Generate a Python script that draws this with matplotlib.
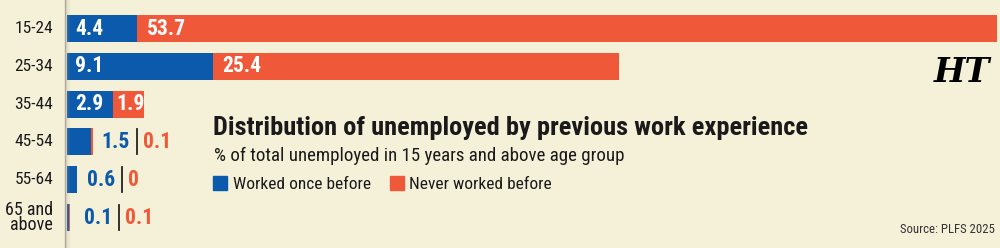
import matplotlib
matplotlib.use("Agg")
import matplotlib.pyplot as plt
from matplotlib import font_manager
from matplotlib.lines import Line2D
from matplotlib.patches import Rectangle

# ---------------- data ----------------
categories = ["15-24", "25-34", "35-44", "45-54", "55-64", "65 and\nabove"]
worked_before = [4.4, 9.1, 2.9, 1.5, 0.6, 0.1]
never_worked = [53.7, 25.4, 1.9, 0.1, 0.0, 0.1]
series_names = ["Worked once before", "Never worked before"]
title = "Distribution of unemployed by previous work experience"
subtitle = "% of total unemployed in 15 years and above age group"
source = "Source: PLFS 2025"

# ---------------- style ----------------
BG = "#f5f0d8"
BLUE = "#0b5aab"
ORANGE = "#f0583a"
DARK = "#1a1a1a"

avail = {f.name for f in font_manager.fontManager.ttflist}
fam = None
for cand in ["Liberation Sans Narrow", "Roboto Condensed", "Open Sans Condensed", "Roboto", "Liberation Sans"]:
    if cand in avail:
        fam = cand
        break
plt.rcParams["font.family"] = [fam, "DejaVu Sans"]

fig = plt.figure(figsize=(10, 2.48), dpi=100)
fig.patch.set_facecolor(BG)

PX = 16.0  # pixels per unit
ax_left = 67 / 1000
ax = fig.add_axes([ax_left, 0, 1 - ax_left, 1])
ax.set_facecolor(BG)
ax.set_xlim(0, (1000 - 67) / PX)
row = 37.8
top = 28.5
ax.set_ylim((248 - top) / row, -top / row)
for s in ax.spines.values():
    s.set_visible(False)
ax.set_xticks([])
ax.set_yticks([])

ypos = list(range(len(categories)))
h = 27 / row
ax.barh(ypos, worked_before, height=h, color=BLUE, edgecolor="none")
ax.barh(ypos, never_worked, left=worked_before, height=h, color=ORANGE, edgecolor="none")

# category labels
for i, c in enumerate(categories):
    fs = 13 if "\n" in c else 12.5
    ax.text(-14 / PX, i, c, ha="right", va="center", fontsize=fs, color=DARK,
            linespacing=0.85, clip_on=False)

# value labels
VFS = 15.5
sep_layout = {3: 137, 4: 122, 5: 119}  # separator pixel x for small rows
for i, (b, o) in enumerate(zip(worked_before, never_worked)):
    if i in sep_layout:
        sx = (sep_layout[i] - 67) / PX
        ax.text(sx - 7 / PX, i, f"{b:g}", ha="right", va="center", fontsize=VFS,
                fontweight="bold", color=BLUE)
        ax.text(sx + 6 / PX, i, f"{o:g}", ha="left", va="center", fontsize=VFS,
                fontweight="bold", color=ORANGE)
        ax.plot([sx, sx], [i - 12.5 / row, i + 12.5 / row], color="#222222", lw=1.3)
    else:
        ax.text(8 / PX, i, f"{b:g}", ha="left", va="center", fontsize=VFS,
                fontweight="bold", color="white")
        ax.text(b + 3 / PX if o < 3 else b + 10 / PX, i, f"{o:g}", ha="left",
                va="center", fontsize=VFS, fontweight="bold", color="white")

# left divider with soft shadow
fig.add_artist(Line2D([65 / 1000, 65 / 1000], [0, 1], color="#b0ab98", lw=1.0))
for k in range(1, 5):
    fig.add_artist(Line2D([(65 + k) / 1000, (65 + k) / 1000], [0, 1],
                          color="#b0ab98", lw=1.0, alpha=0.3 / k))

# title, subtitle, legend
fig.text(213 / 1000, 1 - 135 / 248, title, fontsize=19, fontweight="bold",
         color=DARK, va="baseline")
fig.text(214 / 1000, 1 - 161 / 248, subtitle, fontsize=13.6, color=DARK, va="baseline")
fig.add_artist(Rectangle((213 / 1000, 1 - 190 / 248), 14 / 1000, 14 / 248,
                         transform=fig.transFigure, color=BLUE))
fig.text(233 / 1000, 1 - 189 / 248, series_names[0], fontsize=12.5, color=DARK,
         va="baseline")
fig.add_artist(Rectangle((390 / 1000, 1 - 190 / 248), 14 / 1000, 14 / 248,
                         transform=fig.transFigure, color=ORANGE))
fig.text(409 / 1000, 1 - 189 / 248, series_names[1], fontsize=12.5, color=DARK,
         va="baseline")

# logo & source
fig.text(962 / 1000, 1 - 72 / 248, "HT", fontsize=24, fontweight="bold",
         fontstyle="italic", family="DejaVu Serif", color="black",
         ha="center", va="center")
fig.text(995 / 1000, 1 - 233 / 248, source, fontsize=9.2, color="#333333",
         ha="right", va="baseline")

fig.savefig("out.png", dpi=100, facecolor=BG)
